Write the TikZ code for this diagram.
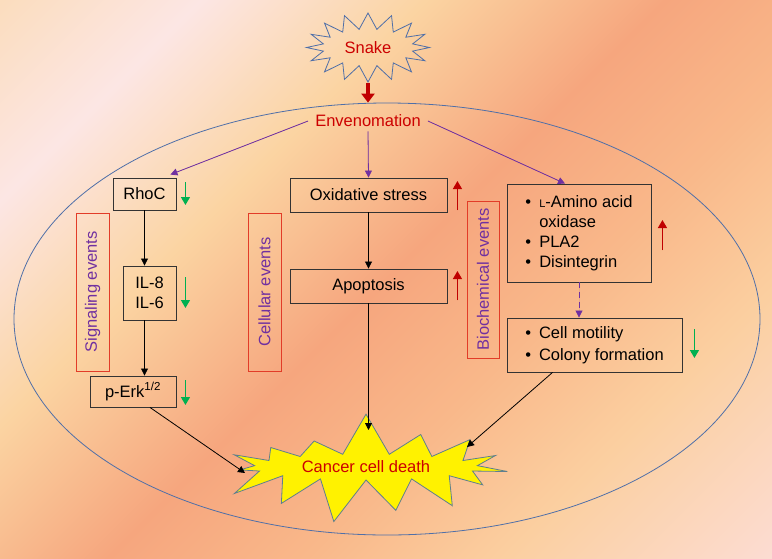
\documentclass[tikz,border=0pt]{standalone}
\usepackage{fontspec}
\setmainfont{Liberation Sans}
\usetikzlibrary{shapes.symbols,shapes.geometric,positioning,arrows.meta,calc}
\tikzset{>={Triangle[length=7pt,width=7pt]}}

\definecolor{bgA}{RGB}{251,221,190}
\definecolor{bgB}{RGB}{252,230,228}
\definecolor{bgC}{RGB}{251,212,162}
\definecolor{bgD}{RGB}{246,166,126}
\definecolor{bgE}{RGB}{249,184,138}
\definecolor{bgF}{RGB}{251,207,160}
\definecolor{bgG}{RGB}{252,220,210}
\definecolor{envred}{RGB}{204,0,0}
\definecolor{darkred}{RGB}{192,0,0}
\definecolor{venompurple}{RGB}{112,48,160}
\definecolor{downgreen}{RGB}{0,176,80}
\definecolor{labelred}{RGB}{226,60,40}
\definecolor{cellblue}{RGB}{79,111,168}
\definecolor{burstedge}{RGB}{94,127,143}

\pgfdeclarehorizontalshading{bgshade}{100bp}{color(0bp)=(bgA); color(14.6bp)=(bgA); color(25.2bp)=(bgB); color(37.2bp)=(bgC); color(50bp)=(bgD); color(60.6bp)=(bgE); color(71.2bp)=(bgF); color(85.4bp)=(bgG); color(100bp)=(bgG)}

\tikzset{
  box/.style={draw=black!80, line width=0.9pt, inner sep=0pt},
  evbox/.style={draw=labelred, line width=0.9pt, text=venompurple, rotate=90,
    minimum width=158pt, minimum height=33pt, inner sep=0pt},
  flow/.style={->, line width=0.8pt},
  venom/.style={->, line width=0.8pt, draw=venompurple, fill=venompurple},
  trend/.style={-{Triangle[length=8pt,width=9pt]}, line width=1.3pt},
  down/.style={trend, draw=downgreen, fill=downgreen},
  up/.style={trend, draw=darkred, fill=darkred}
}

\begin{document}
\begin{tikzpicture}[x=1pt, y=-1pt, font=\fontsize{16.5}{20}\selectfont]
  \useasboundingbox (0,0) rectangle (772,558);
  \fill[shading=bgshade, shading angle=-45] (0,0) rectangle (772,558);

  % cell outline
  \node[ellipse, draw=cellblue, line width=0.8pt, minimum width=746pt,
        minimum height=432pt, inner sep=0pt] (cell) at (387,319) {};

  \node[starburst, starburst points=16, starburst point height=16pt,
        random starburst=0, draw=cellblue, line width=0.8pt,
        minimum width=123pt, minimum height=69pt, inner sep=0pt,
        text=envred] (snake) at (368,47.5) {Snake};
  \draw[-{Triangle[length=9pt,width=13pt]}, line width=4.5pt, darkred]
    (snake.south) -- (snake.south |- cell.north);

  \node[text=envred, inner xsep=7pt, inner ysep=4pt] (env) at (368,121) {Envenomation};

  % signaling column
  \node[box, minimum width=63pt, minimum height=32pt] (rhoc) at (144.5,194) {RhoC};
  \node[box, minimum width=53pt, minimum height=54pt, align=center] (il) at (149.5,293) {IL-8\\IL-6};
  \node[box, minimum width=86pt, minimum height=31pt] (perk) at (133,391.5) {p-Erk\textsuperscript{1/2}};
  \node[evbox] (sig) at (92.5,292) {Signaling events};

  % cellular column
  \node[box, minimum width=157pt, minimum height=34pt] (ox) at (368.5,195) {Oxidative stress};
  \node[box, minimum width=157pt, minimum height=34pt] (apop) at (368.5,286) {Apoptosis};
  \node[evbox] (cel) at (264.5,292) {Cellular events};

  % biochemical column
  \node[box, minimum width=144pt, minimum height=98pt] (amino) at (579,233)
    {\begin{tabular}{@{}l@{\hspace{8pt}}l@{}}
      \textbullet & {\fontsize{11}{11}\selectfont L}-Amino acid\\
                  & oxidase\\
      \textbullet & PLA2\\
      \textbullet & Disintegrin
     \end{tabular}};
  \node[box, minimum width=175pt, minimum height=54pt] (motil) at (594.5,345)
    {\begin{tabular}{@{}l@{\hspace{8pt}}l@{}}
      \textbullet & Cell motility\\[2pt]
      \textbullet & Colony formation
     \end{tabular}};
  \node[evbox, minimum width=157pt, minimum height=32pt] (bio) at (483,279.5) {Biochemical events};

  \node[starburst, starburst points=15, starburst point height=44pt,
        random starburst=7, fill=yellow, draw=burstedge, line width=0.8pt,
        minimum width=312pt, minimum height=114pt, inner sep=0pt,
        text=envred] (cancer) at (366,467) {Cancer cell death};

  % from envenomation
  \draw[venom] (env.west) -- ($(rhoc.north east)+(-6,-3)$);
  \draw[venom] (env.south) -- (ox.north);
  \draw[venom] (env.east) -- ($(amino.north)+(-14,0)$);

  % pathways
  \draw[flow] (rhoc.south) -- (rhoc.south |- il.north);
  \draw[flow] (rhoc.south |- il.south) -- (rhoc.south |- perk.north);
  \draw[flow] (ox.south) -- (apop.north);
  \draw[venom, dash pattern=on 6pt off 4pt] (amino.south) -- (amino.south |- motil.north);

  \draw[flow] ($(perk.south)+(17,0)$) -- ($(cancer.center)+(-121,6)$);
  \draw[flow] (apop.south) -- (apop.south |- {$(cancer.center)+(0,-37)$});
  \draw[flow] ($(motil.south)+(-42,0)$) -- ($(cancer.center)+(101,-20)$);

  % up and down marks
  \draw[down] ($(rhoc.east)+(9,-12)$) -- ($(rhoc.east)+(9,11)$);
  \draw[down] ($(il.east)+(9,-16)$) -- ($(il.east)+(9,15)$);
  \draw[down] ($(perk.east)+(9,-11.5)$) -- ($(perk.east)+(9,13.5)$);
  \draw[down] ($(motil.east)+(12,-16)$) -- ($(motil.east)+(12,13)$);
  \draw[up] ($(ox.east)+(10,15)$) -- ($(ox.east)+(10,-14)$);
  \draw[up] ($(apop.east)+(10,14)$) -- ($(apop.east)+(10,-15)$);
  \draw[up] ($(amino.east)+(11,17)$) -- ($(amino.east)+(11,-13)$);
\end{tikzpicture}
\end{document}
